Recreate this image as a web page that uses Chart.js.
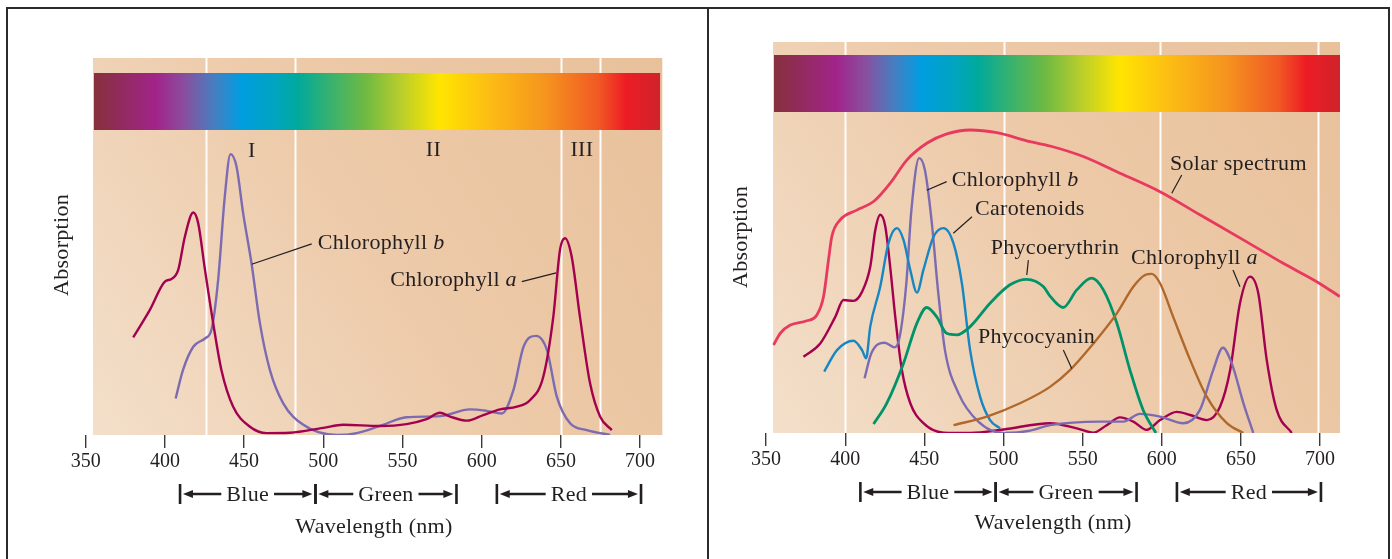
<!DOCTYPE html>
<html>
<head>
<meta charset="utf-8">
<script src="https://cdn.jsdelivr.net/npm/chart.js@4"></script>
<style>
  html, body { margin: 0; padding: 0; background: #fff; }
  body { width: 1392px; height: 559px; position: relative; overflow: hidden; }
  canvas { position: absolute; top: 0; }
  #left { left: 0; }
  #right { left: 708px; }
  .rule { position: absolute; background: #2b2b2b; }
</style>
</head>
<body>
<canvas id="left" width="708" height="559"></canvas>
<canvas id="right" width="684" height="559"></canvas>
<div class="rule" style="left:6px;top:7px;width:1384px;height:2px"></div>
<div class="rule" style="left:6px;top:7px;width:2px;height:560px"></div>
<div class="rule" style="left:707px;top:7px;width:2px;height:560px"></div>
<div class="rule" style="left:1388px;top:7px;width:2px;height:560px"></div>
<script>
// wavelength ticks (nm)
const xTicks = [350, 400, 450, 500, 550, 600, 650, 700];

// colour bands below the axis: [label, from nm, to nm]
const bands = [['Blue', 409.5, 495], ['Green', 495, 584], ['Red', 609.5, 700.5]];

// ---- left panel: chlorophyll a / b ----
const leftChlAx = [380, 390.5, 400, 404.2, 408.4, 412.6, 417.9, 421, 425.3, 430.5, 435.7, 443.1, 453.7, 464.2, 478.9, 500, 512.6, 535.7, 552.6, 565.2, 573.6, 580, 590.6, 601, 611.6, 622.2, 630.6, 638.9, 645.2, 649.4, 652.6, 656.8, 662, 668.4, 674.7, 682.1];
const leftChlAy = [25.9, 33.2, 40.7, 41.4, 43.8, 52.6, 59, 56.2, 43.8, 29.6, 17.2, 7.5, 2.2, 0.5, 0.6, 1.9, 2.7, 2.4, 2.9, 4.2, 5.9, 4.9, 3.8, 5.3, 6.8, 7.5, 9.3, 15.5, 31.4, 49.1, 52.2, 47.3, 31.4, 13.7, 4.9, 1.3];
const leftChlBx = [406.8, 411.4, 417.9, 425.3, 429.4, 433.6, 437.8, 441.4, 445.2, 449.4, 454.7, 460, 466.3, 474.7, 487.4, 508.5, 521.1, 535.7, 552.6, 573.6, 592.6, 603.2, 612.7, 620, 626.4, 634.4, 641.2, 647.4, 655.8, 666.3, 681];
const leftChlBy = [9.7, 17.2, 23.4, 25.6, 27.9, 41.1, 63.2, 74.5, 71.2, 58.8, 45.5, 29.6, 17.2, 8.4, 2.7, 0, 0.5, 2.4, 4.7, 5, 6.8, 6.4, 5.7, 11.9, 23.4, 26.3, 22.5, 10.2, 3.1, 1.3, 0];
const leftStripes = [426, 482, 650, 674.5];

// ---- right panel: pigments and solar spectrum ----
const solarX = [354.7, 358.9, 365.3, 375.7, 382.1, 386.3, 389.4, 391.5, 396.8, 407.3, 417.9, 428.4, 438.9, 451.5, 464.2, 478.9, 495.7, 516.8, 529.4, 550.4, 571.6, 598.9, 624.1, 651.5, 676.7, 697.9, 712.5];
const solarY = [22.5, 25.5, 27.6, 28.7, 30.2, 34.9, 44.2, 50.2, 54.5, 57, 59.2, 63.9, 69.8, 74.1, 76.5, 77.5, 76.8, 74.5, 73.4, 70.7, 66.8, 61.7, 55.8, 49.4, 43.4, 38.7, 34.9];
const chlAx = [373.6, 384.2, 393.7, 398.9, 405.2, 410.6, 415.8, 419, 422.1, 425.3, 428.4, 431.6, 435.8, 441.1, 449.4, 462.1, 478.9, 500, 529.4, 546.3, 556.8, 565.2, 573.6, 582, 590.5, 598.9, 609.5, 617.9, 628.4, 636.8, 643.2, 649.4, 655.7, 661, 666.3, 672.6, 682.1];
const chlAy = [19.5, 22.9, 29.7, 34, 33.8, 36.1, 42.5, 51.9, 55.8, 52.8, 42.5, 29.7, 16.1, 7.6, 2.5, 0.1, 0, 0.9, 2.5, 1.2, 0.1, 2, 4, 2.9, 0.8, 3.3, 5.4, 4.6, 3.3, 6.7, 16.1, 33.2, 40, 35.7, 18.7, 5.9, 0];
const chlBx = [412.2, 416.5, 424.9, 431.2, 434.4, 438.6, 441.8, 446.7, 450.3, 454.5, 458.8, 463, 471.5, 484.1, 500, 516.8, 529.4, 561, 575.7, 586.2, 598.9, 613.6, 624.1, 632.5, 638.6, 644.2, 651.6, 657.8];
const chlBy = [14, 20.4, 23.1, 21.9, 24.6, 38.3, 57, 70.3, 67.3, 54.5, 35.7, 21.2, 10.2, 2.9, 0, 0.6, 2, 2.9, 2.9, 4.9, 4.2, 2.5, 5.9, 16.1, 21.8, 17.8, 7.6, 0];
const carotX = [386.7, 394.8, 405.2, 410.6, 413.2, 415.8, 422.1, 427.3, 432.7, 436.8, 441.1, 445.3, 449.4, 455.8, 462.1, 468.4, 473.7, 478.9, 485.2, 491.5, 497.8];
const carotY = [15.7, 21.2, 23.6, 21.2, 19.1, 27.2, 37.4, 48.5, 52.4, 49.4, 41.7, 35.9, 41.7, 50.2, 52.4, 48.5, 38.3, 21.2, 9.3, 3.3, 1.2];
const phycoeryX = [417.9, 426.2, 436.8, 445.3, 451.5, 457.8, 464.1, 470.5, 478.9, 491.5, 504.1, 514.7, 525.3, 529.4, 537.7, 546.3, 555.7, 563.1, 571.6, 579.9, 588.2, 596.3];
const phycoeryY = [2.3, 7.6, 17.8, 28.1, 32.1, 29.7, 25.5, 25.1, 27.2, 33.2, 37.9, 39.3, 37.4, 35, 32.1, 36.6, 39.6, 36.6, 28.1, 16.1, 5.9, 0];
const phycocyX = [468.4, 489.5, 510.4, 529.4, 542, 556.8, 571.6, 582, 589.4, 593.7, 598.9, 607.2, 617.9, 628.4, 641.1, 651.5];
const phycocyY = [2, 4.2, 7.6, 11.8, 16.1, 22.9, 30.6, 37.4, 40.4, 40.7, 38.3, 29.7, 18.7, 9.3, 2.5, 0];
const rightStripes = [400, 500, 599, 699];

const FONT = '"Liberation Serif", "DejaVu Serif", serif';
const SIZE = 22;
const INK = '#231f20';

const spectrumStops = [
  [0, '#86303c'], [0.11, '#a1248a'], [0.16, '#8a4e9e'], [0.21, '#4a7cbf'],
  [0.26, '#009de0'], [0.32, '#00a5c0'], [0.36, '#00a99c'], [0.42, '#3ab26d'],
  [0.48, '#6fba43'], [0.54, '#b6cd2d'], [0.61, '#ffe500'], [0.70, '#fcbc14'],
  [0.80, '#f5931f'], [0.89, '#f15a24'], [0.94, '#ed1c24'], [1, '#cf232c']
];

function series(xs, ys, color, width) {
  return {
    data: xs.map((x, i) => ({ x: x, y: ys[i] })),
    borderColor: color,
    borderWidth: width || 2.4,
    pointRadius: 0,
    fill: false,
    cubicInterpolationMode: 'monotone'
  };
}

// text with an optional italic tail, e.g. "Chlorophyll " + "b"
function label(ctx, text, italic, x, y) {
  ctx.font = SIZE + 'px ' + FONT;
  ctx.fillText(text, x, y);
  if (italic) {
    const w = ctx.measureText(text).width;
    ctx.font = 'italic ' + SIZE + 'px ' + FONT;
    ctx.fillText(italic, x + w, y);
  }
}

function arrowHead(ctx, x, y, dir) {
  ctx.beginPath();
  ctx.moveTo(x, y);
  ctx.lineTo(x - dir * 10, y - 4);
  ctx.lineTo(x - dir * 10, y + 4);
  ctx.closePath();
  ctx.fill();
}

const panelPlugin = {
  id: 'panel',
  beforeDatasetsDraw(chart, args, opts) {
    const { ctx, chartArea: a, scales: { x } } = chart;
    const left = x.getPixelForValue(opts.panelFrom);
    ctx.save();
    const g = ctx.createLinearGradient(left, a.bottom, a.right, a.top);
    g.addColorStop(0, '#f3dfca');
    g.addColorStop(0.5, '#edcaa9');
    g.addColorStop(1, '#e8c19b');
    ctx.fillStyle = g;
    ctx.fillRect(left, a.top, a.right - left, a.bottom - a.top);
    ctx.strokeStyle = 'rgba(255,255,255,0.95)';
    ctx.lineWidth = 2;
    opts.stripes.forEach(v => {
      const px = Math.round(x.getPixelForValue(v)) + 0.5;
      ctx.beginPath();
      ctx.moveTo(px, a.top);
      ctx.lineTo(px, a.bottom);
      ctx.stroke();
    });
    const b0 = x.getPixelForValue(opts.barFrom), b1 = x.getPixelForValue(opts.barTo);
    const sg = ctx.createLinearGradient(b0, 0, b1, 0);
    spectrumStops.forEach(s => sg.addColorStop(s[0], s[1]));
    ctx.fillStyle = sg;
    ctx.fillRect(b0, opts.barTop, b1 - b0, opts.barHeight);
    ctx.restore();
  },
  afterDatasetsDraw(chart, args, opts) {
    const { ctx, chartArea: a, scales: { x, y } } = chart;
    ctx.save();
    ctx.fillStyle = INK;
    ctx.strokeStyle = INK;
    ctx.textBaseline = 'middle';
    ctx.letterSpacing = '0.3px';
    opts.notes.forEach(n => {
      ctx.textAlign = n.align || 'left';
      label(ctx, n.text, n.italic, x.getPixelForValue(n.x), y.getPixelForValue(n.y));
      if (n.line) {
        ctx.lineWidth = 1.2;
        ctx.beginPath();
        ctx.moveTo(x.getPixelForValue(n.line[0]), y.getPixelForValue(n.line[1]));
        ctx.lineTo(x.getPixelForValue(n.line[2]), y.getPixelForValue(n.line[3]));
        ctx.stroke();
      }
    });

    // colour bands
    ctx.textAlign = 'center';
    ctx.font = SIZE + 'px ' + FONT;
    const by = opts.bandY;
    bands.forEach(([name, from, to]) => {
      const x0 = x.getPixelForValue(from), x1 = x.getPixelForValue(to);
      const mid = (x0 + x1) / 2;
      const half = ctx.measureText(name).width / 2;
      ctx.fillRect(x0 - 1.2, by - 10, 2.6, 20);
      ctx.fillRect(x1 - 1.2, by - 10, 2.6, 20);
      ctx.lineWidth = 2.6;
      ctx.beginPath();
      ctx.moveTo(x0 + 10, by); ctx.lineTo(mid - half - 5, by);
      ctx.moveTo(mid + half + 5, by); ctx.lineTo(x1 - 10, by);
      ctx.stroke();
      arrowHead(ctx, x0 + 3, by, -1);
      arrowHead(ctx, x1 - 3, by, 1);
      ctx.fillText(name, mid, by + 1);
    });

    ctx.fillText('Wavelength (nm)', (a.left + a.right) / 2, opts.titleY);
    ctx.translate(opts.yTitleX, opts.yTitleY);
    ctx.rotate(-Math.PI / 2);
    ctx.fillText('Absorption', 0, 0);
    ctx.restore();
  }
};

function makeChart(id, datasets, xMax, pad, panel) {
  return new Chart(document.getElementById(id), {
    type: 'line',
    data: { datasets: datasets },
    options: {
      responsive: false,
      animation: false,
      events: [],
      layout: { padding: pad },
      plugins: { legend: { display: false }, tooltip: { enabled: false }, panel: panel },
      scales: {
        x: {
          type: 'linear',
          min: 350,
          max: xMax,
          afterBuildTicks: s => { s.ticks = xTicks.map(v => ({ value: v })); },
          afterFit: s => { s.height = 40; },
          border: { display: false },
          grid: { drawOnChartArea: false, drawTicks: true, tickLength: 13, color: '#3a3a3a', lineWidth: 1.4 },
          ticks: {
            autoSkip: false, maxRotation: 0, padding: 2, color: INK,
            font: { family: FONT, size: 20 },
            callback: v => String(v)
          }
        },
        y: { display: false, min: 0, max: 100 }
      }
    },
    plugins: [panelPlugin]
  });
}

makeChart('left', [
  series(leftChlAx, leftChlAy, '#a3004f'),
  series(leftChlBx, leftChlBy, '#7d6bb2')
], 714, { left: 85.7, right: 45.7, top: 58, bottom: 84 }, {
  panelFrom: 354.6, barFrom: 355.2, barTo: 712.6, barTop: 73, barHeight: 57,
  stripes: leftStripes, bandY: 494, titleY: 527, yTitleX: 62, yTitleY: 245,
  notes: [
    { text: 'I', x: 454.8, y: 75.4, align: 'center' },
    { text: 'II', x: 569.5, y: 75.6, align: 'center' },
    { text: 'III', x: 663.2, y: 75.6, align: 'center' },
    { text: 'Chlorophyll ', italic: 'b', x: 496.5, y: 51, line: [454.8, 45.3, 492.7, 50.7] },
    { text: 'Chlorophyll ', italic: 'a', x: 542.2, y: 41.1, line: [625.3, 40.7, 647, 43] }
  ]
});

makeChart('right', [
  series(solarX, solarY, '#e8395f', 2.8),
  series(phycocyX, phycocyY, '#b0692c'),
  series(phycoeryX, phycoeryY, '#00936a', 2.8),
  series(carotX, carotY, '#1687c2'),
  series(chlBx, chlBy, '#7d6bb2'),
  series(chlAx, chlAy, '#a3004f')
], 712.6, { left: 58.1, right: 52, top: 42, bottom: 86 }, {
  panelFrom: 354.4, barFrom: 355, barTo: 712.6, barTop: 55, barHeight: 57,
  stripes: rightStripes, bandY: 492, titleY: 523, yTitleX: 33, yTitleY: 237,
  notes: [
    { text: 'Chlorophyll ', italic: 'b', x: 467.3, y: 64.7, line: [451.5, 62.1, 464.1, 64.3] },
    { text: 'Carotenoids', x: 482, y: 57.3, line: [468.3, 51.1, 480.1, 55.3] },
    { text: 'Phycoerythrin', x: 491.9, y: 47.2, line: [514.7, 40.4, 515.7, 44.2] },
    { text: 'Phycocyanin', x: 483.9, y: 24.6, line: [537.8, 21.2, 543.1, 16.5] },
    { text: 'Chlorophyll ', italic: 'a', x: 580.6, y: 44.7, line: [645, 41.7, 649.4, 37.4] },
    { text: 'Solar spectrum', x: 605.2, y: 68.7, line: [612.6, 66, 606.3, 61.3] }
  ]
});
</script>
</body>
</html>
